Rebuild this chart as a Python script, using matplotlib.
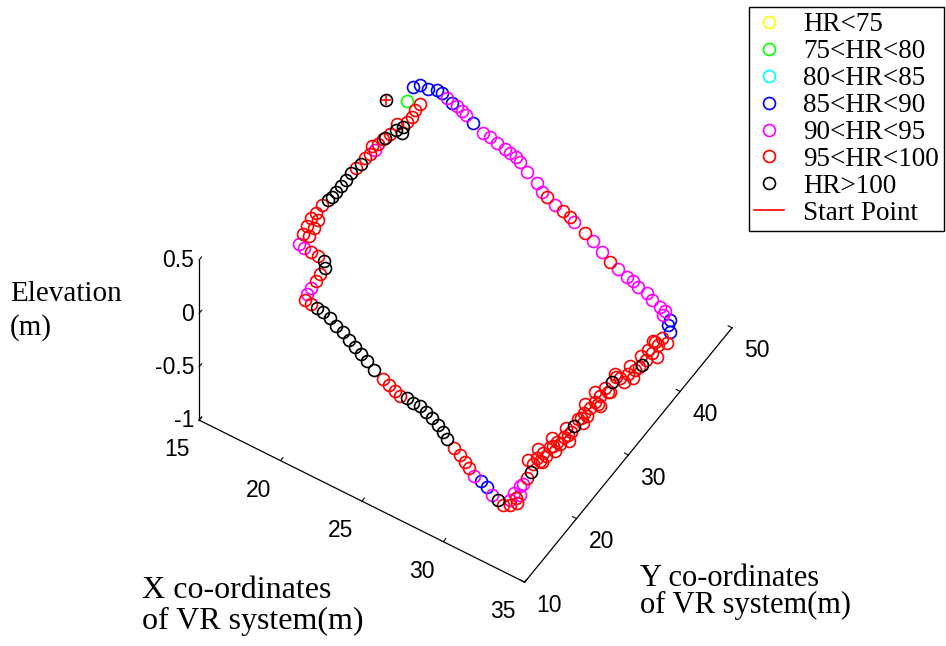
"""
VR walking path coloured by heart-rate band (3D view, MATLAB-like styling)
Output: out.png
"""
import numpy as np
import matplotlib
matplotlib.use("Agg")
import matplotlib.pyplot as plt
from matplotlib.lines import Line2D
from mpl_toolkits.mplot3d import proj3d

plt.rcParams["font.family"] = ["Liberation Sans", "DejaVu Sans"]

# ── Data: path samples in VR coordinates (m) and heart-rate class ────────────
x_pos = [16.02, 16.89, 16.66, 16.88, 17.32, 17.74, 18.00, 18.36, 18.74, 19.00,
         19.39, 19.64, 20.17, 20.87, 21.31, 21.74, 22.28, 22.57, 22.96, 23.28,
         23.86, 24.57, 25.05, 25.43, 25.97, 26.47, 26.94, 27.28, 28.03, 28.63,
         29.30, 29.92, 30.49, 31.06, 31.46, 31.81, 32.36, 32.77, 33.31, 33.63,
         33.67, 34.11, 34.21, 34.48, 34.35, 34.19, 34.40, 34.16, 34.41, 34.39,
         34.39, 34.36, 34.26, 34.11, 34.20, 33.91, 33.72, 33.72, 33.63, 33.87,
         33.68, 33.66, 33.84, 33.65, 33.57, 33.78, 33.57, 33.51, 33.57, 33.64,
         33.61, 33.51, 33.57, 33.39, 33.36, 33.27, 33.36, 33.17, 33.27, 33.09,
         33.12, 33.28, 33.31, 33.31, 33.28, 33.26, 33.49, 33.32, 33.47, 33.19,
         32.84, 32.42, 32.00, 31.58, 31.11, 30.69, 30.35, 29.93, 29.48, 28.92,
         28.55, 28.13, 27.67, 27.25, 26.83, 26.42, 26.06, 25.72, 25.37, 24.94,
         24.49, 23.85, 23.32, 22.87, 22.41, 21.96, 21.47, 21.01, 20.52, 20.05,
         19.69, 19.33, 18.97, 18.86, 18.83, 18.82, 18.76, 18.77, 18.51, 18.12,
         17.72, 17.31, 16.99, 16.84, 16.75, 16.66, 16.71, 16.73, 16.81, 16.85,
         16.85, 16.87, 16.88, 16.89, 16.94, 16.98, 16.95, 17.03, 17.10, 17.04,
         17.13, 17.21, 17.32, 17.47, 17.51, 17.55, 17.49, 17.47,
         34.70, 34.08, 34.74, 34.07, 33.94, 34.43, 33.59, 33.95, 33.35, 33.99,
         33.33, 33.84, 33.31, 33.84, 33.07, 33.59, 32.85, 33.41, 32.79, 17.14,
         17.09, 17.01, 16.86, 17.11, 17.17, 17.65, 33.69, 33.56]
y_pos = [42.92, 44.24, 45.95, 46.79, 46.94, 47.36, 47.50, 47.35, 47.11, 47.25,
         47.01, 46.98, 46.68, 46.38, 46.37, 46.36, 46.22, 46.27, 46.19, 45.97,
         45.47, 45.18, 44.64, 44.39, 44.25, 44.21, 44.10, 43.79, 43.56, 43.22,
         42.86, 42.43, 42.19, 42.12, 42.04, 41.89, 41.92, 41.57, 41.43, 41.38,
         40.86, 40.84, 40.12, 39.67, 38.54, 37.68, 37.59, 36.42, 36.40, 35.31,
         34.55, 34.05, 33.59, 32.72, 31.67, 31.79, 31.61, 30.85, 29.79, 29.61,
         28.67, 27.75, 27.76, 26.82, 25.93, 25.84, 25.33, 24.93, 23.98, 23.19,
         22.69, 22.23, 21.27, 21.26, 20.60, 20.30, 19.25, 19.24, 18.35, 18.34,
         17.49, 16.57, 15.71, 14.95, 14.46, 13.37, 13.01, 12.41, 11.92, 11.45,
         11.60, 11.77, 12.12, 12.29, 12.40, 12.75, 13.06, 13.40, 13.68, 14.08,
         14.49, 14.84, 15.11, 15.29, 15.47, 15.38, 15.36, 15.08, 15.23, 15.41,
         15.69, 15.95, 16.26, 16.53, 16.81, 17.08, 17.46, 17.56, 17.94, 18.05,
         18.03, 18.01, 17.99, 18.72, 19.57, 20.60, 21.55, 22.48, 23.09, 23.17,
         23.09, 23.00, 23.05, 24.30, 25.35, 26.40, 27.23, 28.32, 29.22, 29.88,
         30.64, 31.57, 32.49, 33.42, 34.24, 35.07, 35.93, 36.66, 37.39, 38.18,
         39.24, 39.97, 40.77, 41.47, 42.29, 43.12, 43.91, 44.93,
         38.40, 37.64, 36.35, 35.36, 33.64, 32.67, 31.84, 29.74, 28.72, 27.70,
         26.87, 24.88, 23.24, 22.18, 21.31, 20.25, 19.29, 18.29, 17.54, 24.51,
         25.63, 26.69, 37.57, 38.91, 41.42, 40.88, 12.59, 13.58]
elev = [0.11, 0.09, 0.10, 0.09, 0.08, 0.07, 0.06, 0.05, 0.04, 0.03,
        0.02, 0.01, -0.01, -0.03, -0.04, -0.06, -0.07, -0.08, -0.09, -0.10,
        -0.12, -0.15, -0.16, -0.17, -0.19, -0.21, -0.22, -0.23, -0.26, -0.27,
        -0.30, -0.32, -0.33, -0.35, -0.36, -0.38, -0.39, -0.41, -0.42, -0.43,
        -0.44, -0.45, -0.45, -0.46, -0.46, -0.46, -0.47, -0.46, -0.47, -0.47,
        -0.47, -0.47, -0.47, -0.47, -0.48, -0.47, -0.46, -0.46, -0.46, -0.47,
        -0.47, -0.47, -0.48, -0.47, -0.47, -0.48, -0.48, -0.47, -0.48, -0.48,
        -0.48, -0.48, -0.49, -0.48, -0.48, -0.48, -0.49, -0.48, -0.49, -0.48,
        -0.48, -0.49, -0.49, -0.50, -0.50, -0.50, -0.51, -0.50, -0.51, -0.50,
        -0.49, -0.48, -0.46, -0.45, -0.44, -0.42, -0.41, -0.40, -0.38, -0.36,
        -0.35, -0.34, -0.32, -0.31, -0.30, -0.29, -0.27, -0.26, -0.25, -0.24,
        -0.23, -0.21, -0.19, -0.17, -0.16, -0.14, -0.13, -0.11, -0.10, -0.08,
        -0.07, -0.06, -0.05, -0.05, -0.04, -0.04, -0.03, -0.03, -0.02, -0.01,
        0.00, 0.01, 0.02, 0.03, 0.04, 0.04, 0.04, 0.05, 0.05, 0.05,
        0.05, 0.05, 0.05, 0.06, 0.06, 0.06, 0.06, 0.06, 0.06, 0.06,
        0.06, 0.06, 0.06, 0.06, 0.06, 0.06, 0.07, 0.07,
        -0.47, -0.46, -0.48, -0.46, -0.46, -0.48, -0.46, -0.47, -0.46, -0.48,
        -0.46, -0.48, -0.47, -0.49, -0.47, -0.49, -0.47, -0.49, -0.47, 0.02,
        0.03, 0.03, 0.07, 0.07, 0.07, 0.05, -0.51, -0.51]
# 0 HR<75, 1 75-80, 2 80-85, 3 85-90, 4 90-95, 5 95-100, 6 HR>100
hr_class = [6, 1, 3, 3, 3, 3, 3, 4, 3, 4,
            4, 4, 3, 4, 4, 4, 4, 4, 4, 4,
            4, 4, 4, 5, 4, 5, 5, 4, 5, 4,
            4, 5, 4, 4, 4, 4, 4, 4, 4, 4,
            4, 3, 3, 3, 5, 5, 5, 5, 5, 5,
            6, 5, 5, 5, 5, 5, 5, 6, 5, 5,
            5, 5, 5, 5, 5, 5, 5, 5, 6, 5,
            5, 5, 5, 5, 5, 5, 5, 5, 5, 5,
            5, 6, 5, 4, 4, 4, 5, 4, 5, 5,
            6, 4, 3, 3, 4, 5, 5, 5, 5, 6,
            6, 6, 6, 6, 6, 6, 6, 5, 5, 5,
            5, 6, 6, 6, 6, 6, 6, 6, 6, 6,
            6, 5, 5, 4, 4, 5, 5, 6, 6, 5,
            5, 4, 4, 5, 5, 5, 5, 5, 6, 6,
            6, 6, 6, 6, 5, 6, 5, 5, 4, 5,
            6, 5, 6, 6, 5, 5, 5, 5,
            5, 5, 5, 5, 5, 5, 5, 5, 5, 5,
            5, 5, 5, 5, 5, 5, 5, 5, 5, 5,
            5, 5, 5, 5, 5, 6, 5, 4]
start_point = [16.02, 42.92, 0.11]

class_labels = ["HR<75", "75<HR<80", "80<HR<85", "85<HR<90",
                "90<HR<95", "95<HR<100", "HR>100"]
class_colors = ["yellow", "lime", "cyan", "blue", "magenta", "red", "black"]

x_ticks = [15, 20, 25, 30, 35]
y_ticks = [10, 20, 30, 40, 50]
z_ticks = [-1, -0.5, 0, 0.5]
z_tick_labels = ["-1", "-0.5", "0", "0.5"]

# ── Figure ───────────────────────────────────────────────────────────────────
fig = plt.figure(figsize=(9.46, 6.46), dpi=100)
ax = fig.add_axes([0.1, 0.0, 0.6, 0.9], projection="3d", proj_type="ortho")
ax.view_init(elev=51.4, azim=-57.5)
ax.set_box_aspect((1, 1, 0.665))
ax.set_xlim(15, 35)
ax.set_ylim(10, 50)
ax.set_zlim(-1, 0.5)

x_arr, y_arr, z_arr, c_arr = map(np.asarray, (x_pos, y_pos, elev, hr_class))
handles = []
for k, (lab, col) in enumerate(zip(class_labels, class_colors)):
    m = c_arr == k
    h, = ax.plot(x_arr[m], y_arr[m], z_arr[m], linestyle="none", marker="o",
                 mfc="none", mec=col, ms=8.6, mew=1.2, label=lab)
    handles.append(h)
ax.plot([start_point[0]], [start_point[1]], [start_point[2]], linestyle="none",
        marker="+", color="red", ms=7.5, mew=1.2)
handles.append(Line2D([], [], color="red", lw=1.2))

ax.set_xticks(x_ticks)
ax.set_yticks(y_ticks)
ax.set_zticks(z_ticks)
ax.set_xticklabels([str(t) for t in x_ticks], ha="right", va="top")
ax.set_yticklabels([str(t) for t in y_ticks], ha="left", va="top")
ax.set_zticklabels(z_tick_labels, ha="right", va="center")
ax.tick_params(labelsize=16.5)
ax.xaxis.set_tick_params(pad=1.5)
ax.yaxis.set_tick_params(pad=0)
ax.zaxis.set_tick_params(pad=-6)
ax.zaxis.set_ticks_position("lower")
ax.grid(False)
for axis in (ax.xaxis, ax.yaxis, ax.zaxis):
    axis.set_pane_color((1, 1, 1, 0))
    axis.pane.set_edgecolor((1, 1, 1, 0))
    axis.line.set_color("black")
    axis.line.set_linewidth(0.9)
    axis._axinfo["tick"]["inward_factor"] = 0.0
    axis._axinfo["tick"]["outward_factor"] = 0.15

# ── Place the box so the axis corners land where they sit in the original ──
fig.canvas.draw()
W, H = fig.get_size_inches() * fig.dpi
corners = np.array([[15, 10, -1], [35, 10, -1], [35, 50, -1], [15, 10, 0.5]], float)
corner_px = np.array([[199, 420], [525, 582], [732, 328], [199, 260]], float)
qx, qy, _ = proj3d.proj_transform(corners[:, 0], corners[:, 1], corners[:, 2], ax.get_proj())
vx0, vx1 = ax.viewLim.intervalx
vy0, vy1 = ax.viewLim.intervaly
nx = (qx - vx0) / (vx1 - vx0)
ny = (qy - vy0) / (vy1 - vy0)
A = np.zeros((8, 3))
rhs = np.zeros(8)
A[:4, 0], A[:4, 1], rhs[:4] = nx, 1, corner_px[:, 0]
A[4:, 0], A[4:, 2], rhs[4:] = ny, 1, H - corner_px[:, 1]
S, L, B = np.linalg.lstsq(A, rhs, rcond=None)[0]
ax.set_position([L / W, B / H, S / W, S / H])

# ── Text labels ──────────────────────────────────────────────────────────────
serif = ["Liberation Serif", "DejaVu Serif"]
fig.text(10 / W, 1 - 311 / H, "Elevation\n(m)", ha="left", va="center",
         family=serif, fontsize=21, linespacing=1.3)
fig.text(142 / W, 1 - 606 / H, "X co-ordinates\nof VR system(m)", ha="left",
         va="center", family=serif, fontsize=23, linespacing=1.05)
fig.text(640 / W, 1 - 592 / H, "Y co-ordinates\nof VR system(m)", ha="left",
         va="center", family=serif, fontsize=22, linespacing=0.92)

fig.legend(handles, class_labels + ["Start Point"], loc="upper right",
           bbox_to_anchor=(944 / W, 1 - 7 / H), prop={"family": serif, "size": 19.5},
           frameon=True, fancybox=False, edgecolor="black", framealpha=1,
           borderpad=0.2, labelspacing=0.07, handlelength=1.1,
           handletextpad=0.7, borderaxespad=0)

fig.savefig("out.png", dpi=100)
